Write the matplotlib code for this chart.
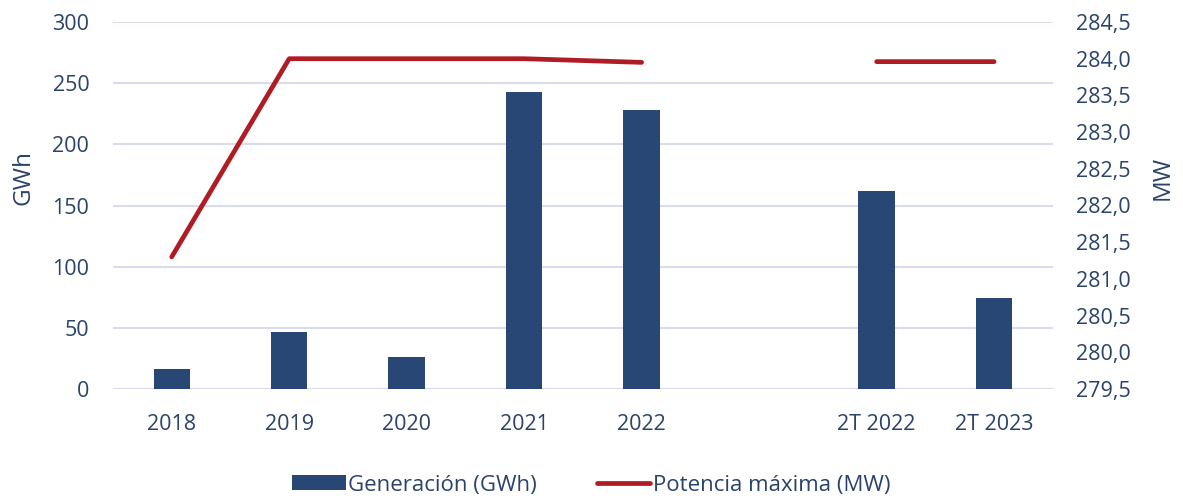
import numpy as np
import matplotlib.pyplot as plt
from matplotlib.ticker import FuncFormatter, MultipleLocator

plt.rcParams['font.family'] = ['Open Sans', 'DejaVu Sans']

categorias = ['2018', '2019', '2020', '2021', '2022', '', '2T 2022', '2T 2023']
generacion = [16.1, 46.3, 25.9, 242.5, 227.8, np.nan, 161.6, 74.1]
potencia = [281.3, 284.0, 284.0, 284.0, 283.95, np.nan, 283.96, 283.96]

azul = '#284775'
rojo = '#B01C24'
texto = '#2B4368'
rejilla = '#D9DCEB'

fig = plt.figure(figsize=(11.83, 5.0), dpi=100)
ax = fig.add_axes([0.0955, 0.222, 0.7945, 0.734])
ax2 = ax.twinx()

x = np.arange(len(categorias))
gen = np.array(generacion)
mask = ~np.isnan(gen)
b = ax.bar(x[mask], gen[mask], width=0.31, color=azul, zorder=3,
           label='Generación (GWh)')
l, = ax2.plot(x, potencia, color=rojo, lw=3.4, solid_capstyle='round',
              solid_joinstyle='round', label='Potencia máxima (MW)')

ax.set_xlim(-0.5, len(categorias) - 0.5)
ax.set_ylim(0, 300)
ax.yaxis.set_major_locator(MultipleLocator(50))
ax2.set_ylim(279.5, 284.5)
ax2.yaxis.set_major_locator(MultipleLocator(0.5))
ax2.yaxis.set_major_formatter(FuncFormatter(lambda v, p: f'{v:.1f}'.replace('.', ',')))

ax.grid(axis='y', color=rejilla, lw=1.5, zorder=0)
ax.set_axisbelow(True)
for a in (ax, ax2):
    for s in a.spines.values():
        s.set_visible(False)
    a.tick_params(length=0, labelsize=15.5, colors=texto)

ax.set_xticks(x)
ax.set_xticklabels(categorias)
ax.tick_params(axis='x', pad=18)
ax.tick_params(axis='y', pad=17)
ax2.tick_params(axis='y', pad=17)

ax.set_ylabel('GWh', fontsize=17.5, color=texto, labelpad=12, y=0.575)
ax2.set_ylabel('MW', fontsize=17.5, color=texto, labelpad=14, y=0.575)

fig.legend([b, l], ['Generación (GWh)', 'Potencia máxima (MW)'],
           loc='center', bbox_to_anchor=(0.5, 0.03), ncol=2, frameon=False,
           fontsize=16, labelcolor=texto, handlelength=2.4, handleheight=0.65,
           handletextpad=0.12, columnspacing=2.7)

fig.savefig('out.png', dpi=100)
